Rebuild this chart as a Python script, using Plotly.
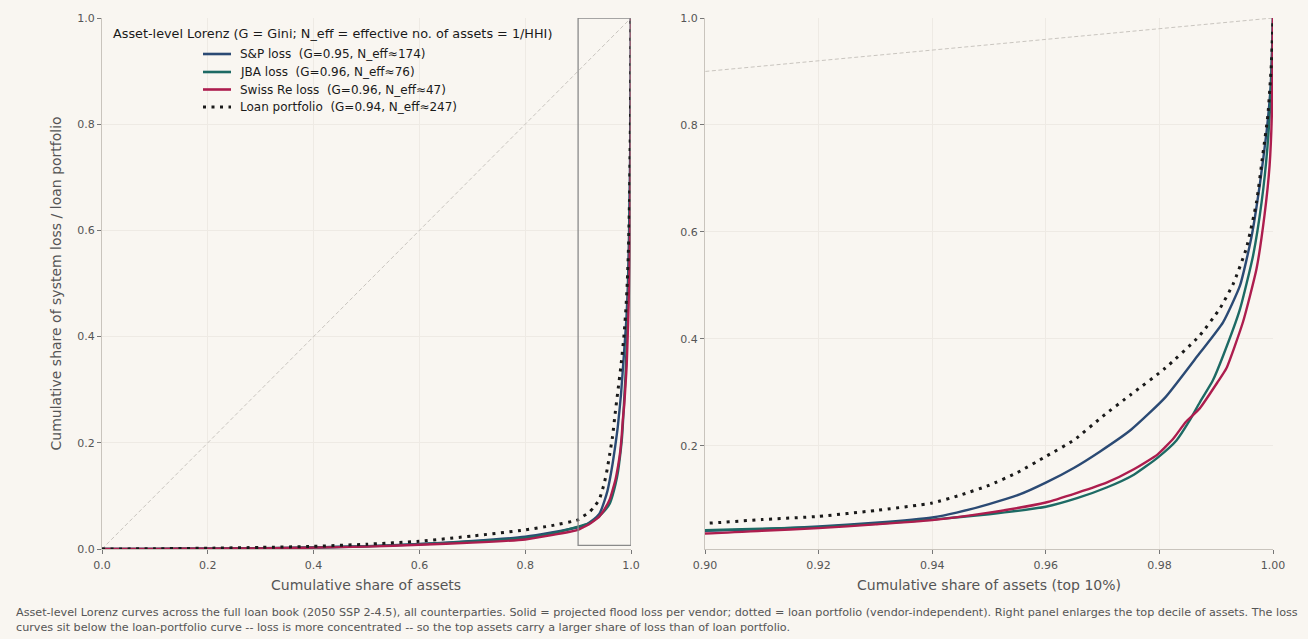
import plotly.graph_objects as go

# ---------------- data ----------------
sp_asset = [0, 0.1, 0.2, 0.3, 0.4, 0.5, 0.6, 0.7, 0.8, 0.85, 0.90, 0.91, 0.92, 0.93, 0.94, 0.9443,
            0.95, 0.9554, 0.96, 0.9650, 0.9695, 0.975, 0.981, 0.987, 0.9912, 0.9942, 0.9962,
            0.9977, 0.9989, 0.9996, 1.0]
sp_loss = [0, 0.0002, 0.0006, 0.0015, 0.003, 0.0055, 0.0094, 0.015, 0.023, 0.031, 0.041, 0.044,
           0.049, 0.056, 0.066, 0.075, 0.091, 0.109, 0.131, 0.159, 0.189, 0.230, 0.290, 0.372,
           0.431, 0.500, 0.590, 0.690, 0.790, 0.875, 1.0]

jba_asset = [0, 0.1, 0.2, 0.3, 0.4, 0.5, 0.6, 0.7, 0.8, 0.85, 0.90, 0.91, 0.92, 0.93, 0.94, 0.95,
             0.96, 0.9655, 0.9707, 0.9755, 0.9797, 0.9830, 0.9853, 0.9871, 0.9894, 0.9912, 0.9942,
             0.9965, 0.9980, 0.9990, 0.9997, 1.0]
jba_loss = [0, 0.0002, 0.0006, 0.0014, 0.0028, 0.005, 0.009, 0.014, 0.021, 0.029, 0.042, 0.045,
            0.048, 0.054, 0.062, 0.072, 0.086, 0.102, 0.122, 0.146, 0.178, 0.210, 0.247, 0.281,
            0.322, 0.368, 0.456, 0.556, 0.656, 0.756, 0.880, 1.0]

swiss_asset = [0, 0.1, 0.2, 0.3, 0.4, 0.5, 0.6, 0.7, 0.8, 0.85, 0.90, 0.91, 0.92, 0.93, 0.94, 0.95,
               0.96, 0.9655, 0.9707, 0.9755, 0.9797, 0.9825, 0.9846, 0.9871, 0.9903, 0.9918,
               0.9947, 0.9971, 0.9985, 0.9994, 0.9998, 1.0]
swiss_loss = [0, 0.0002, 0.0005, 0.0012, 0.0025, 0.0045, 0.008, 0.012, 0.018, 0.026, 0.036, 0.041,
              0.046, 0.053, 0.061, 0.075, 0.094, 0.112, 0.131, 0.156, 0.184, 0.214, 0.244, 0.270,
              0.320, 0.345, 0.431, 0.531, 0.631, 0.724, 0.820, 1.0]

loan_asset = [0, 0.1, 0.2, 0.3, 0.4, 0.5, 0.6, 0.7, 0.8, 0.85, 0.90, 0.91, 0.92, 0.93, 0.94, 0.945,
              0.95, 0.955, 0.96, 0.965, 0.970, 0.975, 0.981, 0.987, 0.9906, 0.993, 0.9953,
              0.9971, 0.9982, 0.9991, 0.9997, 1.0]
loan_share = [0, 0.0005, 0.0015, 0.003, 0.005, 0.009, 0.0145, 0.0245, 0.036, 0.044, 0.055, 0.062,
              0.068, 0.079, 0.093, 0.108, 0.126, 0.150, 0.180, 0.211, 0.255, 0.296, 0.345, 0.405,
              0.456, 0.503, 0.569, 0.656, 0.744, 0.819, 0.912, 1.0]

series_names = [
    "S&P loss\u00a0 (G=0.95, N_eff\u2248174)",
    "JBA loss\u00a0 (G=0.96, N_eff\u224876)",
    "Swiss Re loss\u00a0 (G=0.96, N_eff\u224847)",
    "Loan portfolio\u00a0 (G=0.94, N_eff\u2248247)",
]
series_colors = ["#2b4a74", "#1d6a64", "#ad1d4e", "#1a1a1a"]

left_xticks = [0.0, 0.2, 0.4, 0.6, 0.8, 1.0]
left_yticks = [0.0, 0.2, 0.4, 0.6, 0.8, 1.0]
right_xticks = [0.90, 0.92, 0.94, 0.96, 0.98, 1.00]
right_yticks = [0.2, 0.4, 0.6, 0.8, 1.0]
zoom_x = [0.9, 1.0]
zoom_y = [0.007, 1.0]

legend_title = "Asset-level Lorenz (G = Gini; N_eff = effective no. of assets = 1/HHI)"
caption = ("Asset-level Lorenz curves across the full loan book (2050 SSP 2-4.5), all counterparties. "
           "Solid = projected flood loss per vendor; dotted = loan portfolio (vendor-independent). "
           "Right panel enlarges the top decile of assets. The loss<br>"
           "curves sit below the loan-portfolio curve -- loss is more concentrated -- so the top assets "
           "carry a larger share of loss than of loan portfolio.")

# ---------------- figure ----------------
W, H = 1308, 639
BG = "#f9f6f1"
FONT = "DejaVu Sans"
TICKC = "#555555"
GRID = "#eeeae4"
SPINE = "#c9c4bd"
DOT = "3px,5.5px"

fig = go.Figure()

data = [(sp_asset, sp_loss), (jba_asset, jba_loss), (swiss_asset, swiss_loss), (loan_asset, loan_share)]

# diagonal reference lines
for xa, ya in (("x", "y"), ("x2", "y2")):
    fig.add_trace(go.Scatter(x=[0, 1], y=[0, 1], mode="lines", xaxis=xa, yaxis=ya,
                             line=dict(color="#c9c5bf", width=1, dash="4px,2.5px"),
                             showlegend=False, hoverinfo="skip"))

for i, ((xs, ys), name, col) in enumerate(zip(data, series_names, series_colors)):
    is_loan = i == 3
    line = dict(color=col, width=3 if is_loan else 2.4, dash=DOT if is_loan else "solid",
                shape="spline", smoothing=0.5)
    for xa, ya in (("x", "y"), ("x2", "y2")):
        fig.add_trace(go.Scatter(x=xs, y=ys, mode="lines", name=name, line=line,
                                 xaxis=xa, yaxis=ya, showlegend=False))

# zoom rectangle in left panel
fig.add_shape(type="rect", xref="x", yref="y", x0=zoom_x[0], x1=zoom_x[1], y0=zoom_y[0], y1=zoom_y[1],
              line=dict(color="#8a8a8a", width=1.3), fillcolor="rgba(0,0,0,0)", layer="above")

L0, L1 = 102 / W, 631 / W
R0, R1 = 705 / W, 1273 / W
B0, T0 = 1 - 549 / H, 1 - 18 / H

axis_common = dict(showgrid=True, gridcolor=GRID, gridwidth=1, zeroline=False,
                   showline=True, linecolor=SPINE, linewidth=1, ticks="outside",
                   ticklen=4, tickcolor="#777777", tickfont=dict(family=FONT, size=11, color=TICKC),
                   mirror=False, automargin=False)

fig.update_layout(
    template="none",
    width=W, height=H,
    margin=dict(l=0, r=0, t=0, b=0, pad=0),
    paper_bgcolor=BG, plot_bgcolor=BG,
    font=dict(family=FONT, color=TICKC),
    xaxis=dict(domain=[L0, L1], range=[0, 1], tickvals=left_xticks, tickformat=".1f",
               anchor="y", ticklabelstandoff=2, **axis_common),
    yaxis=dict(domain=[B0, T0], range=[0, 1], tickvals=left_yticks, tickformat=".1f",
               anchor="x", **axis_common),
    xaxis2=dict(domain=[R0, R1], range=zoom_x, tickvals=right_xticks, tickformat=".2f",
                anchor="y2", ticklabelstandoff=2, **axis_common),
    yaxis2=dict(domain=[B0, T0], range=zoom_y, tickvals=right_yticks, tickformat=".1f",
                anchor="x2", **axis_common),
    showlegend=False,
)

# legend (drawn in paper space, frameless like the reference)
fig.add_annotation(x=111 / W, y=1 - 34 / H, xref="paper", yref="paper", xanchor="left", yanchor="middle",
                   text=legend_title, showarrow=False, font=dict(family=FONT, size=12.8, color="#1a1a1a"))
legend_rows = [54, 72, 89.5, 107]
for i, (name, col, ry) in enumerate(zip(series_names, series_colors, legend_rows)):
    is_loan = i == 3
    fig.add_shape(type="line", xref="paper", yref="paper", x0=203 / W, x1=231 / W,
                  y0=1 - ry / H, y1=1 - ry / H,
                  line=dict(color=col, width=3 if is_loan else 2.6, dash=DOT if is_loan else "solid"))
    fig.add_annotation(x=238 / W, y=1 - ry / H, xref="paper", yref="paper", xanchor="left",
                       yanchor="middle", text=name, showarrow=False,
                       font=dict(family=FONT, size=12, color="#1a1a1a"))

# axis titles
fig.add_annotation(x=(L0 + L1) / 2, y=1 - 585 / H, xref="paper", yref="paper",
                   xanchor="center", yanchor="middle",
                   text="Cumulative share of assets", showarrow=False,
                   font=dict(family=FONT, size=14, color=TICKC))
fig.add_annotation(x=(R0 + R1) / 2, y=1 - 585 / H, xref="paper", yref="paper",
                   xanchor="center", yanchor="middle",
                   text="Cumulative share of assets (top 10%)", showarrow=False,
                   font=dict(family=FONT, size=14, color=TICKC))
fig.add_annotation(x=55 / W, y=(B0 + T0) / 2, xref="paper", yref="paper", textangle=-90,
                   xanchor="center", yanchor="middle",
                   text="Cumulative share of system loss / loan portfolio", showarrow=False,
                   font=dict(family=FONT, size=14, color=TICKC))

# caption
fig.add_annotation(x=14 / W, y=1 - 620 / H, xref="paper", yref="paper", xanchor="left", yanchor="middle",
                   align="left", text=caption, showarrow=False,
                   font=dict(family=FONT, size=11.2, color=TICKC))

fig.write_html("out.html", config={"displayModeBar": False},
               post_script="document.body.style.margin='0';document.body.style.background='%s';" % BG)
